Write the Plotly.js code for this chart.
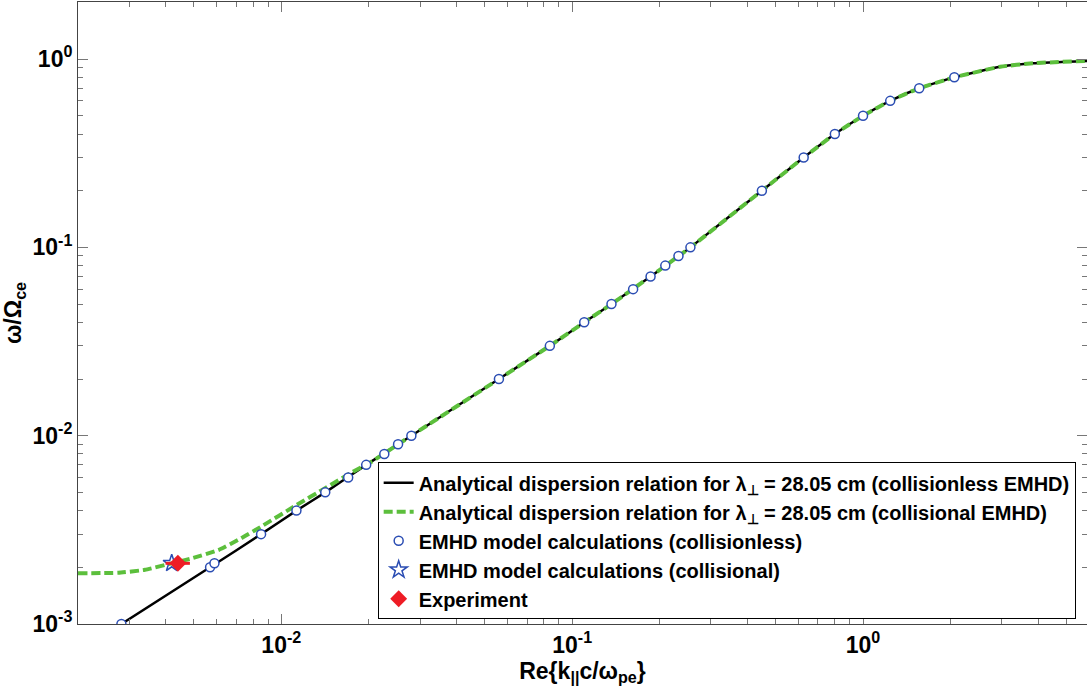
<!DOCTYPE html>
<html>
<head>
<meta charset="utf-8">
<script src="https://cdn.plot.ly/plotly-3.0.1.min.js"></script>
<style>html,body{margin:0;padding:0;background:#fff;}#chart{width:1087px;height:692px;}</style>
</head>
<body>
<div id="chart"></div>
<script>
// Collisionless analytical dispersion relation
var kCollisionless = [0.00282, 0.00569, 0.00852, 0.01127, 0.01416, 0.01958, 0.028, 0.056, 0.0838, 0.110, 0.1365, 0.186, 0.255, 0.449, 0.625, 0.80, 1.0, 1.24, 1.56, 2.06, 2.96, 3.84, 5.9];
var wCollisionless = [0.001, 0.002, 0.003, 0.004, 0.005, 0.007, 0.01, 0.02, 0.03, 0.04, 0.05, 0.07, 0.1, 0.2, 0.3, 0.4, 0.5, 0.6, 0.7, 0.8, 0.91, 0.95, 0.978];

// Collisional analytical dispersion relation
var kCollisional = [0.002, 0.00275, 0.0034, 0.0042, 0.00492, 0.00608, 0.0073, 0.00847, 0.0113, 0.01415, 0.01725, 0.0205, 0.028, 0.056, 0.0838, 0.110, 0.1365, 0.186, 0.255, 0.449, 0.625, 0.80, 1.0, 1.24, 1.56, 2.06, 2.96, 3.84, 5.9];
var wCollisional = [0.00186, 0.00187, 0.00194, 0.0021, 0.00223, 0.00247, 0.00286, 0.00327, 0.00429, 0.00526, 0.00631, 0.0073, 0.01, 0.02, 0.03, 0.04, 0.05, 0.07, 0.1, 0.2, 0.3, 0.4, 0.5, 0.6, 0.7, 0.8, 0.91, 0.95, 0.978];

// EMHD model calculations (collisionless)
var kModel = [0.00282, 0.00569, 0.00589, 0.00852, 0.01127, 0.01416, 0.01698, 0.01958, 0.0226, 0.0252, 0.028, 0.056, 0.0838, 0.110, 0.1365, 0.162, 0.186, 0.209, 0.232, 0.255, 0.449, 0.625, 0.80, 1.0, 1.24, 1.56, 2.06];
var wModel = [0.001, 0.002, 0.0021, 0.003, 0.004, 0.005, 0.006, 0.007, 0.008, 0.009, 0.01, 0.02, 0.03, 0.04, 0.05, 0.06, 0.07, 0.08, 0.09, 0.1, 0.2, 0.3, 0.4, 0.5, 0.6, 0.7, 0.8];

// EMHD model calculations (collisional)
var kModelColl = [0.0042];
var wModelColl = [0.0021];

// Experiment
var kExp = [0.00441];
var wExp = [0.0021];
var kExpErrPlus = [0.00044];
var kExpErrMinus = [0.00041];

// Tick labels
var xTickVals = [0.01, 0.1, 1];
var xTickText = ['10<sup>-2</sup>', '10<sup>-1</sup>', '10<sup>0</sup>'];
var yTickVals = [0.001, 0.01, 0.1, 1];
var yTickText = ['10<sup>-3</sup>', '10<sup>-2</sup>', '10<sup>-1</sup>', '10<sup>0</sup>'];

var legendNames = [
  '<b>Analytical dispersion relation for λ<sub>⊥</sub> = 28.05 cm (collisionless EMHD)</b>',
  '<b>Analytical dispersion relation for λ<sub>⊥</sub> = 28.05 cm (collisional EMHD)</b>',
  '<b>EMHD model calculations (collisionless)</b>',
  '<b>EMHD model calculations (collisional)</b>',
  '<b>Experiment</b>'
];

var blue = '#2b4db3';
var traces = [
  {x: kCollisionless, y: wCollisionless, mode: 'lines', name: legendNames[0],
   line: {color: '#000000', width: 2.5, shape: 'spline', smoothing: 0.4}},
  {x: kCollisional, y: wCollisional, mode: 'lines', name: legendNames[1],
   line: {color: '#5cbf3c', width: 4, dash: '9px,4px', shape: 'spline', smoothing: 0.4}},
  {x: kModel, y: wModel, mode: 'markers', name: legendNames[2],
   marker: {symbol: 'circle', size: 9, color: '#ffffff', line: {color: blue, width: 1.5}}},
  {x: kModelColl, y: wModelColl, mode: 'markers', name: legendNames[3],
   marker: {symbol: 'star-open', size: 13, color: blue, line: {color: blue, width: 1.5}}},
  {x: kExp, y: wExp, mode: 'markers', name: legendNames[4],
   marker: {symbol: 'diamond', size: 13, color: '#ee1c25'},
   error_x: {type: 'data', symmetric: false, array: kExpErrPlus, arrayminus: kExpErrMinus,
             color: '#ee1c25', thickness: 3, width: 0}}
];

var fam = 'Liberation Sans, Arial, sans-serif';
var tickFont = {family: fam, size: 23, color: '#000', weight: 'bold'};
var axisCommon = {
  type: 'log', showgrid: false, zeroline: false,
  showline: true, linecolor: '#444', linewidth: 1, mirror: 'allticks',
  ticks: 'inside', ticklen: 10, tickcolor: '#777', tickwidth: 1,
  tickmode: 'array', tickfont: tickFont,
  minor: {ticks: 'inside', ticklen: 5, tickcolor: '#777', tickwidth: 1, dtick: 'D1', showgrid: false}
};

var layout = {
  width: 1087, height: 692,
  margin: {l: 78, r: 0, t: 2, b: 68},
  paper_bgcolor: '#ffffff', plot_bgcolor: '#ffffff',
  font: {family: fam, color: '#000'},
  showlegend: true,
  xaxis: Object.assign({}, axisCommon, {
    range: [-2.699, 0.770],
    tickvals: xTickVals, ticktext: xTickText,
    title: {text: '<b>Re{k<sub>||</sub>c/ω<sub>pe</sub>}</b>', font: {size: 23, family: fam}, standoff: 2}
  }),
  yaxis: Object.assign({}, axisCommon, {
    range: [-3, 0.303],
    tickvals: yTickVals, ticktext: yTickText,
    title: {text: '<b>ω/Ω<sub>ce</sub></b>', font: {size: 23, family: fam}, standoff: 6}
  }),
  legend: {
    x: 0.297, y: 0.26, xanchor: 'left', yanchor: 'top',
    bgcolor: '#ffffff', bordercolor: '#000', borderwidth: 1,
    font: {size: 20, family: fam, color: '#000'},
    itemwidth: 30, tracegroupgap: 0
  }
};

Plotly.newPlot('chart', traces, layout, {displayModeBar: false, staticPlot: true});
</script>
</body>
</html>
